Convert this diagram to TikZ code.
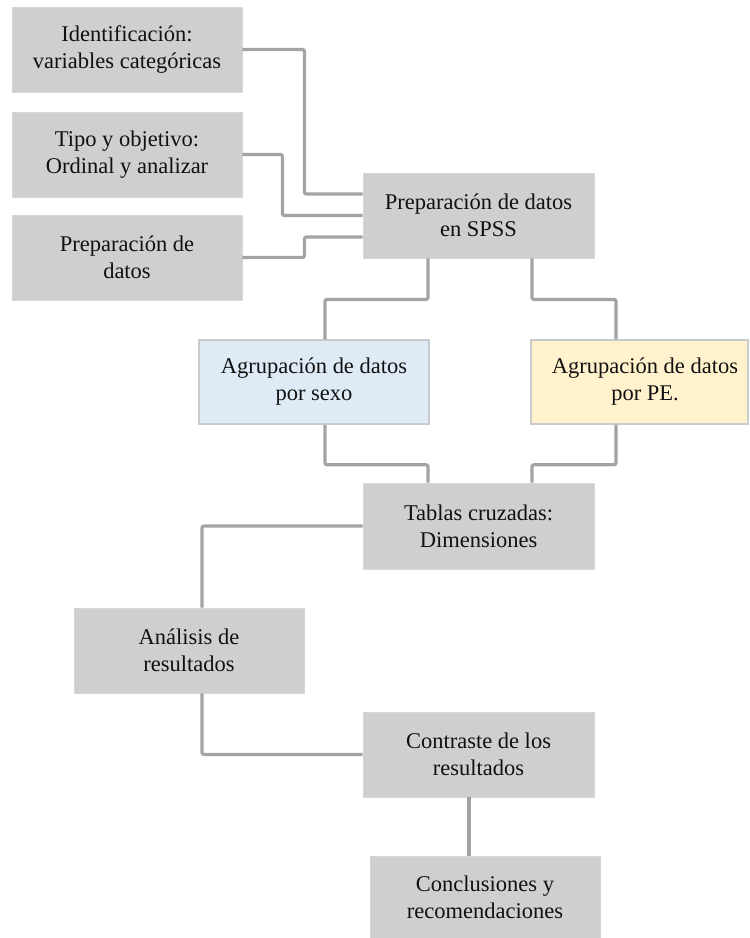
\documentclass[tikz,border=0pt]{standalone}
\usepackage{fontspec}
\setmainfont{Liberation Serif}
\definecolor{boxgray}{HTML}{D0CECE}
\definecolor{boxedge}{HTML}{D8D7D7}
\definecolor{boxblue}{HTML}{DEEBF7}
\definecolor{boxyellow}{HTML}{FFF2CC}
\definecolor{coledge}{HTML}{C9CACC}
\definecolor{linegray}{HTML}{A3A3A3}
\definecolor{txt}{HTML}{111111}
\begin{document}
\begin{tikzpicture}[x=1pt,y=1pt,
  box/.style={draw=boxedge,line width=0.8pt,fill=boxgray,minimum width=230pt,minimum height=85pt,
    align=center,inner sep=0pt,text=txt,font=\fontsize{22.5}{27}\selectfont},
  bluebox/.style={box,fill=boxblue,draw=coledge,line width=1.5pt},
  yellowbox/.style={box,fill=boxyellow,draw=coledge,line width=1.5pt},
  conn/.style={draw=linegray,line width=3.2pt,rounded corners=2pt}]
\useasboundingbox (0,0) rectangle (750,-938);
\node[box] (b1) at (127,-49.5) {Identificación:\\variables categóricas};
\node[box] (b2) at (127,-154.5) {Tipo y objetivo:\\Ordinal y analizar};
\node[box] (b3) at (127,-257.5) {Preparación de\\datos};
\node[box,minimum width=231pt] (b4) at (478.5,-215.5) {Preparación de datos\\en SPSS};
\node[bluebox,minimum height=84pt] (b5) at (314,-382) {Agrupación de datos\\por sexo};
\node[yellowbox,minimum width=217pt,minimum height=84pt] (b6) at (639.5,-382) {\hspace*{11pt}Agrupación de datos\\\hspace*{11pt}por PE.};
\node[box,minimum width=231pt,minimum height=86pt] (b7) at (478.5,-526) {Tablas cruzadas:\\Dimensiones};
\node[box] (b8) at (189,-650.5) {Análisis de\\resultados};
\node[box,minimum width=231pt] (b9) at (478.5,-754.5) {Contraste de los\\resultados};
\node[box,minimum height=82pt] (b10) at (485,-897) {Conclusiones y\\recomendaciones};
% connectors
\draw[conn] (b1.east) -- ++(62,0) |- ([yshift=21.5pt]b4.west);
\draw[conn] (b2.east) -- ++(40,0) |- (b4.west);
\draw[conn] (b3.east) -- ++(62,0) |- ([yshift=-21.5pt]b4.west);
\draw[conn] ([xshift=-50.5pt]b4.south) -- ++(0,-41) -| ([xshift=11pt]b5.north);
\draw[conn] ([xshift=53.5pt]b4.south) -- ++(0,-41) -| ([xshift=-23.5pt]b6.north);
\draw[conn] ([xshift=11pt]b5.south) -- ++(0,-40) -| ([xshift=-50.5pt]b7.north);
\draw[conn] ([xshift=-23.5pt]b6.south) -- ++(0,-40) -| ([xshift=53.5pt]b7.north);
\draw[conn] (b7.west) -| ([xshift=13pt]b8.north);
\draw[conn] ([xshift=13pt]b8.south) |- (b9.west);
\draw[conn] ([xshift=-9.5pt]b9.south) -- ([xshift=-9.5pt]b9.south |- b10.north);
\end{tikzpicture}
\end{document}
